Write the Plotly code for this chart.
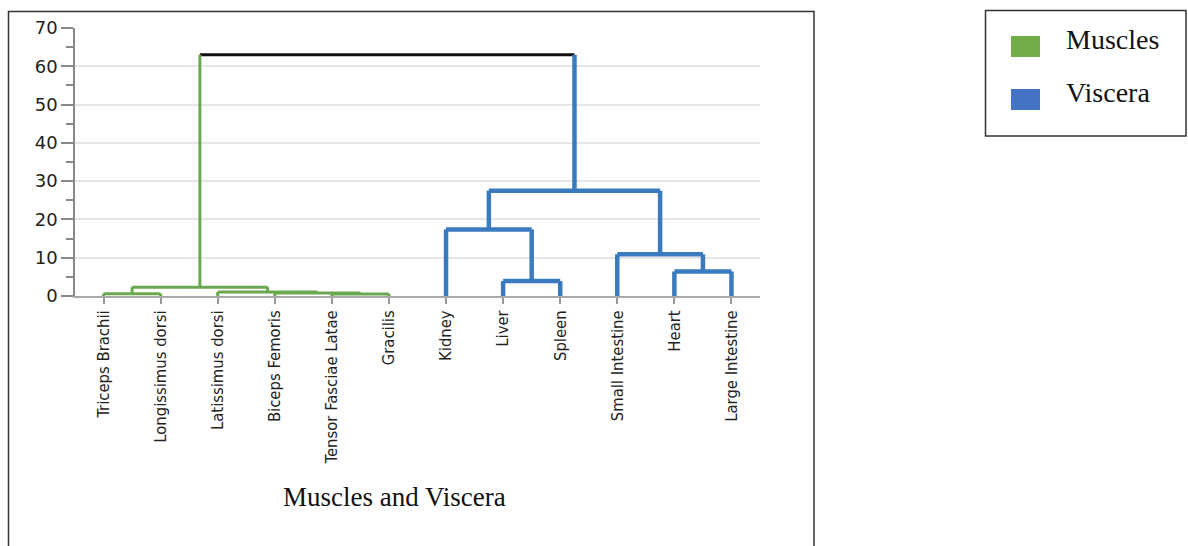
import plotly.graph_objects as go

# Leaf order along the x axis
leaves = ["Triceps Brachii", "Longissimus dorsi", "Latissimus dorsi", "Biceps Femoris",
          "Tensor Fasciae Latae", "Gracilis", "Kidney", "Liver", "Spleen",
          "Small Intestine", "Heart", "Large Intestine"]
leaf_group = ["Muscles"] * 6 + ["Viscera"] * 6

# Linkage: node ids 0..11 are leaves, each merge creates node 12, 13, ...
merge_left = [4, 0, 3, 2, 13, 7, 10, 9, 6, 20, 16]
merge_right = [5, 1, 12, 14, 15, 8, 11, 18, 17, 19, 21]
merge_height = [0.55, 0.6, 0.8, 1.05, 2.3, 3.9, 6.4, 10.9, 17.4, 27.5, 63.0]

group_colors = {"Muscles": "#6aa84f", "Viscera": "#3a7abe", None: "#111111"}
legend_colors = {"Muscles": "#70AD47", "Viscera": "#4472C4"}
line_widths = {"Muscles": 3, "Viscera": 4.5, None: 3}

# Node positions: leaves sit at their index, merges at the midpoint of children
node_x = {i: float(i) for i in range(len(leaves))}
node_h = {i: 0.0 for i in range(len(leaves))}
node_g = {i: g for i, g in enumerate(leaf_group)}

segments = {k: ([], []) for k in group_colors}


def add_seg(group, xs, ys):
    sx, sy = segments[group]
    sx.extend(xs + [None])
    sy.extend(ys + [None])


for k, (a, b, h) in enumerate(zip(merge_left, merge_right, merge_height)):
    nid = len(leaves) + k
    xa, xb = node_x[a], node_x[b]
    add_seg(node_g[a], [xa, xa], [node_h[a], h])
    add_seg(node_g[b], [xb, xb], [node_h[b], h])
    g = node_g[a] if node_g[a] == node_g[b] else None
    add_seg(g, [xa, xb], [h, h])
    node_x[nid] = (xa + xb) / 2
    node_h[nid] = h
    node_g[nid] = g

fig = go.Figure()
for g in [None, "Muscles", "Viscera"]:
    xs, ys = segments[g]
    fig.add_trace(go.Scatter(
        x=xs, y=ys, mode="lines", showlegend=False, hoverinfo="skip",
        line=dict(color=group_colors[g], width=line_widths[g]),
    ))

W, H = 1188, 546
PL, PR, PT, PB = 75, 760, 28, 296  # plot area in pixels


def px(xp):
    return (xp - PL) / (PR - PL)


def py(yp):
    return (PB - yp) / (PB - PT)


shapes = [
    # outer frame around the chart
    dict(type="rect", xref="paper", yref="paper",
         x0=px(8.5), x1=px(814), y0=py(600), y1=py(11.5),
         line=dict(color="#333333", width=1.5), fillcolor="rgba(0,0,0,0)", layer="below"),
    # legend box
    dict(type="rect", xref="paper", yref="paper",
         x0=px(985.5), x1=px(1186), y0=py(136), y1=py(10.5),
         line=dict(color="#333333", width=1.5), fillcolor="rgba(0,0,0,0)"),
]
annotations = [
    dict(text="Muscles and Viscera", xref="paper", yref="paper",
         x=px(394), y=py(497), showarrow=False, xanchor="center", yanchor="middle",
         font=dict(family="Liberation Serif, Times New Roman, serif", size=27, color="#111111")),
]
legend_rows = [("Muscles", 46.5), ("Viscera", 99.5)]
for name, cy in legend_rows:
    shapes.append(dict(type="rect", xref="paper", yref="paper",
                       x0=px(1011), x1=px(1040), y0=py(cy + 10.5), y1=py(cy - 10.5),
                       line=dict(width=0), fillcolor=legend_colors[name]))
    annotations.append(dict(text=name, xref="paper", yref="paper",
                            x=px(1064), y=py(cy - 7), showarrow=False,
                            xanchor="left", yanchor="middle",
                            font=dict(family="Liberation Serif, Times New Roman, serif",
                                      size=28, color="#111111")))

fig.update_layout(
    width=W, height=H,
    margin=dict(l=PL, r=W - PR, t=PT, b=H - PB, pad=0),
    plot_bgcolor="white", paper_bgcolor="white",
    shapes=shapes, annotations=annotations,
    xaxis=dict(
        range=[-0.5, len(leaves) - 0.5], tickmode="array",
        tickvals=list(range(len(leaves))), ticktext=leaves,
        tickangle=-90, ticks="outside", ticklen=6, tickcolor="#999999", tickwidth=1.5,
        showgrid=False, zeroline=False, showline=True, linecolor="#aaaaaa", linewidth=1.5,
        tickfont=dict(family="DejaVu Sans Condensed, Liberation Sans Narrow, sans-serif",
                      size=16.5, color="#222222"),
    ),
    yaxis=dict(
        range=[0, 70], dtick=10, tick0=0, ticks="outside", ticklen=12,
        tickcolor="#888888", tickwidth=1.5,
        minor=dict(dtick=5, ticks="outside", ticklen=7, tickcolor="#888888", tickwidth=1.5, showgrid=False),
        showgrid=True, gridcolor="#e6e6e6", gridwidth=1.5, zeroline=False,
        showline=True, linecolor="#888888", linewidth=1.5,
        tickfont=dict(family="DejaVu Sans, sans-serif", size=18, color="#222222"),
    ),
)

fig.write_html("out.html")
